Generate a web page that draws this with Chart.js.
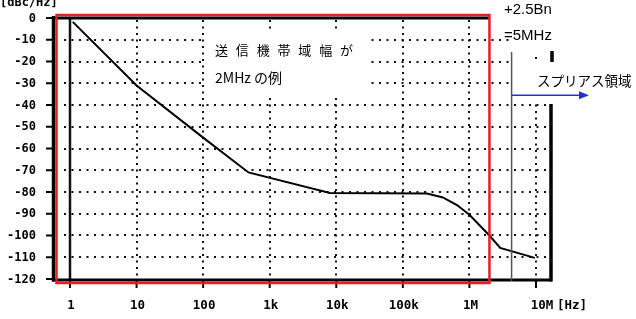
<!DOCTYPE html>
<html>
<head>
<meta charset="utf-8">
<script src="https://cdn.jsdelivr.net/npm/chart.js@4.4.1/dist/chart.umd.min.js"></script>
<style>
  html, body { margin: 0; padding: 0; background: #fff; }
  #wrap { width: 636px; height: 319px; }
</style>
</head>
<body>
<div id="wrap"><canvas id="noise"></canvas></div>
<script>
// phase noise curve (Hz, dBc/Hz)
var freqs  = [1.1, 10, 100, 480, 8000, 230000, 400000, 650000, 1000000, 2000000, 2900000, 9600000];
var levels = [-1.8, -31, -55, -71, -80.5, -80.7, -82.5, -86, -90.5, -100, -105.7, -110.3];

var xTicks      = [1, 10, 100, 1000, 10000, 100000, 1000000, 10000000];
var xTickLabels = ['1', '10', '100', '1k', '10k', '100k', '1M', '10M'];
var yTicks      = [0, -10, -20, -30, -40, -50, -60, -70, -80, -90, -100, -110, -120];
var yTickLabels = ['0', '-10', '-20', '-30', '-40', '-50', '-60', '-70', '-80', '-90', '-100', '-110', '-120'];

var bandEdge   = 2000000;   // 送信機帯域幅 2MHz -> red box
var spurEdge   = 4300000;   // +2.5Bn line as drawn
var arrowLevel = -35.5;

var monoY = 'bold 12px "DejaVu Sans Mono"';
var monoX = 'bold 12.5px "DejaVu Sans Mono"';

var paper = {
  id: 'paper',
  beforeDatasetsDraw: function(chart) {
    var ctx = chart.ctx, a = chart.chartArea;
    var xs = chart.scales.x, ys = chart.scales.y;
    ctx.save();
    ctx.strokeStyle = '#111';
    ctx.lineWidth = 2;

    // dotted grid
    ctx.setLineDash([2, 5.5]);
    yTicks.forEach(function(v) {
      if (v === 0 || v === -120) return;
      var py = Math.round(ys.getPixelForValue(v));
      ctx.beginPath(); ctx.moveTo(a.left + 10, py); ctx.lineTo(a.right - 2, py); ctx.stroke();
    });
    ctx.setLineDash([2, 4.5]);
    xTicks.forEach(function(v) {
      if (v === 1) return;
      var px = Math.round(xs.getPixelForValue(v));
      ctx.beginPath(); ctx.moveTo(px, a.top + 4); ctx.lineTo(px, a.bottom - 2); ctx.stroke();
    });
    ctx.setLineDash([]);

    // pasted-over areas of the scan (text boxes)
    ctx.fillStyle = '#fff';
    ctx.fillRect(204, 30, 164, 66);
    ctx.fillRect(513, 0, 636 - 513, 104);
    ctx.fillStyle = '#111';
    ctx.fillRect(Math.round(xs.getPixelForValue(10000000)) - 1, 57, 2, 2);

    // 1 Hz line is solid on the original
    var p1 = xs.getPixelForValue(1);
    ctx.lineWidth = 2.5;
    ctx.beginPath(); ctx.moveTo(p1, ys.getPixelForValue(0)); ctx.lineTo(p1, a.bottom); ctx.stroke();

    // frame (broken at top right like the scan)
    var top = ys.getPixelForValue(0);
    ctx.strokeStyle = '#000';
    ctx.lineWidth = 3.5;
    ctx.beginPath(); ctx.moveTo(a.left - 0.5, top - 2); ctx.lineTo(a.left - 0.5, a.bottom + 1.5); ctx.stroke();
    ctx.lineWidth = 3;
    ctx.beginPath(); ctx.moveTo(a.left - 2, a.bottom); ctx.lineTo(a.right + 1, a.bottom); ctx.stroke();
    ctx.beginPath(); ctx.moveTo(a.left - 2, top); ctx.lineTo(xs.getPixelForValue(bandEdge), top); ctx.stroke();
    ctx.lineWidth = 3.5;
    ctx.beginPath(); ctx.moveTo(a.right, 104); ctx.lineTo(a.right, a.bottom + 1.5); ctx.stroke();
    ctx.beginPath(); ctx.moveTo(a.right + 1, 51); ctx.lineTo(a.right + 1, 62); ctx.stroke();

    // tick marks
    ctx.lineWidth = 2;
    yTicks.forEach(function(v) {
      var py = ys.getPixelForValue(v);
      ctx.beginPath(); ctx.moveTo(a.left - 8, py); ctx.lineTo(a.left, py); ctx.stroke();
    });
    xTicks.forEach(function(v) {
      var px = xs.getPixelForValue(v);
      ctx.beginPath(); ctx.moveTo(px, a.bottom); ctx.lineTo(px, a.bottom + 8); ctx.stroke();
    });

    // tick labels
    ctx.fillStyle = '#000';
    ctx.font = monoY;
    ctx.textAlign = 'right';
    ctx.textBaseline = 'middle';
    yTicks.forEach(function(v, i) {
      ctx.fillText(yTickLabels[i], a.left - 18, ys.getPixelForValue(v) + 0.5);
    });
    ctx.textAlign = 'left';
    ctx.textBaseline = 'alphabetic';
    ctx.fillText('[dBc/Hz]', 0, 6);

    ctx.font = monoX;
    ctx.textAlign = 'center';
    ctx.textBaseline = 'middle';
    xTicks.forEach(function(v, i) {
      var px = xs.getPixelForValue(v);
      if (i === xTicks.length - 1) {
        ctx.fillText(xTickLabels[i], px + 6, 306);
        ctx.textAlign = 'left';
        ctx.fillText('[Hz]', px + 21, 306);
        ctx.textAlign = 'center';
      } else {
        ctx.fillText(xTickLabels[i], px + 1, 306);
      }
    });
    ctx.restore();
  },
  afterDatasetsDraw: function(chart) {
    var ctx = chart.ctx, a = chart.chartArea;
    var xs = chart.scales.x, ys = chart.scales.y;
    ctx.save();

    // red box = transmitter bandwidth
    ctx.strokeStyle = 'rgb(230,30,35)';
    ctx.lineWidth = 2.5;
    ctx.strokeRect(a.left + 2.5, a.top - 1, xs.getPixelForValue(bandEdge) - a.left - 2.5, a.bottom - a.top + 4);

    // spurious boundary + arrow
    var sx = xs.getPixelForValue(spurEdge);
    ctx.strokeStyle = '#555';
    ctx.lineWidth = 1.5;
    ctx.beginPath(); ctx.moveTo(sx, 52); ctx.lineTo(sx, a.bottom + 1); ctx.stroke();

    var ay = ys.getPixelForValue(arrowLevel);
    var tip = a.right + 38;
    ctx.strokeStyle = 'rgb(30,50,215)';
    ctx.fillStyle = 'rgb(30,50,215)';
    ctx.beginPath(); ctx.moveTo(sx, ay); ctx.lineTo(tip - 8, ay); ctx.stroke();
    ctx.beginPath(); ctx.moveTo(tip, ay); ctx.lineTo(tip - 10, ay - 4); ctx.lineTo(tip - 10, ay + 4); ctx.closePath(); ctx.fill();

    // annotations
    ctx.fillStyle = '#000';
    ctx.textAlign = 'left';
    ctx.textBaseline = 'middle';
    ctx.font = '15px "Liberation Sans"';
    ctx.fillText('+2.5Bn', 504, 10);
    ctx.fillText('=5MHz', 504, 36);

    ctx.font = '13.5px "Noto Sans CJK JP"';
    ctx.fillText('スプリアス領域', 537, 81);

    var line1 = '送 信 機 帯 域 幅 が';
    ctx.font = '13px "Noto Sans CJK JP"';
    ctx.letterSpacing = '0px';
    var w0 = ctx.measureText(line1).width;
    ctx.letterSpacing = ((138 - w0) / (line1.length - 1)).toFixed(2) + 'px';
    ctx.fillText(line1, 215, 50);
    ctx.letterSpacing = '0px';
    ctx.font = '14px "Noto Sans CJK JP"';
    ctx.fillText('2MHz の例', 215, 78);

    ctx.restore();
  }
};

var points = freqs.map(function(f, i) { return { x: f, y: levels[i] }; });

new Chart(document.getElementById('noise'), {
  type: 'line',
  data: {
    datasets: [{
      label: 'phase noise',
      data: points,
      borderColor: '#000',
      borderWidth: 2,
      pointRadius: 0,
      tension: 0,
      fill: false
    }]
  },
  options: {
    responsive: true,
    maintainAspectRatio: false,
    animation: false,
    layout: { padding: { left: 54, top: 16, right: 85, bottom: 39 } },
    plugins: { legend: { display: false }, tooltip: { enabled: false } },
    scales: {
      x: { type: 'logarithmic', min: 0.575, max: 16810000, display: false },
      y: { type: 'linear', min: -120.46, max: 0.92, display: false }
    }
  },
  plugins: [paper]
});
</script>
</body>
</html>
